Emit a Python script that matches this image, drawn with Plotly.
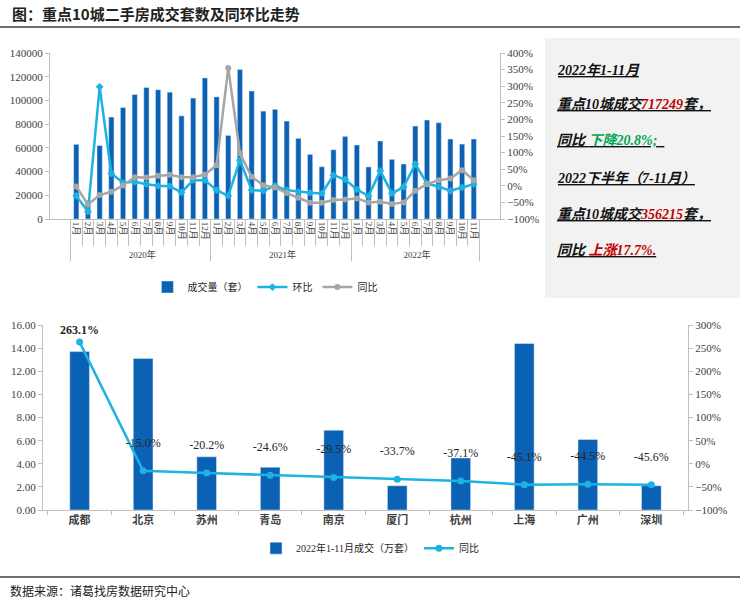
import plotly.graph_objects as go

# ---- top chart: monthly second-hand deals in 10 key cities ----
years = ["2020年"] * 12 + ["2021年"] * 12 + ["2022年"] * 11
months = [f"{m}月" for m in range(1, 13)] * 2 + [f"{m}月" for m in range(1, 12)]

volume = [63000, 15500, 62000, 86000, 94000, 105000, 111000, 109000, 107000, 87000, 102000, 119000,
          103000, 70500, 126000, 108000, 91000, 92500, 82600, 68000, 54500, 44100, 58400, 69700,
          62400, 43900, 65800, 50300, 46400, 78400, 83500, 81200, 67500, 63200, 67500]
mom = [-30, -78, 298, 37, 9, 12, 5, 0, -1, -20, 17, 17,
       -13, -30, 77, -13, -15, 0, -13, -18, -21, -23, 32, 19,
       -11, -31, 45, -23, -3, 65, 7, -3, -15, -5, 5]
yoy = [-2, -56, -28, -18, 1, 26, 25, 30, 33, 26, 26, 34,
       62, 355, 98, 27, 2, -5, -22, -36, -51, -51, -43, -41,
       -38, -50, -48, -55, -50, -15, 5, 17, 22, 47, 17]

# ---- bottom chart: 2022 Jan-Nov by city ----
cities = ["成都", "北京", "苏州", "青岛", "南京", "厦门", "杭州", "上海", "广州", "深圳"]
city_deals = [13.7, 13.1, 4.6, 3.7, 6.9, 2.1, 4.5, 14.4, 6.1, 2.1]
city_yoy = [263.1, -15.0, -20.2, -24.6, -29.5, -33.7, -37.1, -45.1, -44.5, -45.6]

FONT = "Liberation Serif, Noto Sans CJK SC"
CJK = "Noto Sans CJK SC"
BAR = "#0b62b4"
CYAN = "#1cb2e3"
GRAY = "#a6a6a6"
AXIS = "#bfbfbf"

fig = go.Figure()

# top chart traces
fig.add_trace(go.Bar(
    x=[years, months], y=volume, name="成交量（套）",
    marker_color=BAR, width=0.45, xaxis="x", yaxis="y", legend="legend",
))
fig.add_trace(go.Scatter(
    x=[years, months], y=mom, name="环比", mode="lines+markers",
    line=dict(color=CYAN, width=2.5), marker=dict(symbol="diamond", size=6, color=CYAN),
    xaxis="x", yaxis="y2", legend="legend",
))
fig.add_trace(go.Scatter(
    x=[years, months], y=yoy, name="同比", mode="lines+markers",
    line=dict(color=GRAY, width=2.5), marker=dict(symbol="circle", size=6, color=GRAY),
    xaxis="x", yaxis="y2", legend="legend",
))

# bottom chart traces
fig.add_trace(go.Bar(
    x=cities, y=city_deals, name="2022年1-11月成交（万套）",
    marker_color=BAR, width=0.31, xaxis="x2", yaxis="y3", legend="legend2",
))
fig.add_trace(go.Scatter(
    x=cities, y=city_yoy, name="同比", mode="lines+markers+text",
    text=[f"<b>{v:.1f}%</b>" if i == 0 else f"{v:.1f}%<br> " for i, v in enumerate(city_yoy)],
    textposition="top center", textfont=dict(size=12, color="#262626", family=FONT),
    line=dict(color=CYAN, width=2.5), marker=dict(symbol="circle", size=7, color=CYAN),
    xaxis="x2", yaxis="y4", legend="legend2", cliponaxis=False,
))

axis_common = dict(showgrid=False, zeroline=False, showline=True, linecolor=AXIS, linewidth=1,
                   automargin=False, ticks="outside", ticklen=4, tickcolor=AXIS,
                   tickfont=dict(size=11, color="#404040"))

fig.update_layout(
    width=740, height=603,
    margin=dict(l=0, r=0, t=0, b=0, autoexpand=False),
    paper_bgcolor="white", plot_bgcolor="rgba(0,0,0,0)",
    font=dict(family=FONT, size=11, color="#262626"),
    xaxis=dict(domain=[0.0676, 0.6757], anchor="y", type="multicategory", tickangle=90,
               automargin=False, showgrid=False, showline=True, linecolor=AXIS, ticks="outside",
               tickson="boundaries", ticklen=26, tickcolor=AXIS, showdividers=True,
               dividercolor=AXIS, tickfont=dict(size=9, color="#404040")),
    yaxis=dict(domain=[0.6368, 0.9121], anchor="x", range=[0, 140000], dtick=20000,
               tickformat="d", **axis_common),
    yaxis2=dict(overlaying="y", side="right", anchor="x", range=[-100, 400], dtick=50,
                ticksuffix="%", **axis_common),
    xaxis2=dict(domain=[0.0581, 0.9297], anchor="y3", type="category", tickson="boundaries",
                automargin=False, showgrid=False, showline=True, linecolor=AXIS, ticks="outside",
                ticklen=4, tickcolor=AXIS,
                tickfont=dict(size=11, color="#404040", family=CJK, weight="bold")),
    yaxis3=dict(domain=[0.1542, 0.461], anchor="x2", range=[0, 16], dtick=2, tickformat=".2f",
                **axis_common),
    yaxis4=dict(overlaying="y3", side="right", anchor="x2", range=[-100, 300], dtick=50,
                ticksuffix="%", **axis_common),
    legend=dict(orientation="h", x=0.358, y=0.524, xanchor="center", yanchor="middle",
                font=dict(size=10, family=FONT), bgcolor="rgba(0,0,0,0)", traceorder="normal"),
    legend2=dict(orientation="h", x=0.5, y=0.091, xanchor="center", yanchor="middle",
                 font=dict(size=10, family=FONT), bgcolor="rgba(0,0,0,0)", traceorder="normal"),
    showlegend=True,
)

# text box on the right
fig.add_shape(type="rect", xref="paper", yref="paper", x0=545 / 740, x1=1.0,
              y0=1 - 298 / 603, y1=1 - 38 / 603, fillcolor="#f2f2f2", line_width=0, layer="below")

RED = "#c00000"
GREEN = "#00a651"
box_lines = [
    "2022年1-11月",
    f"重点10城成交<span style='color:{RED}'>717249</span>套，",
    f"同比 <span style='color:{GREEN}'>下降20.8%;</span>  ",
    "2022下半年（7-11月）",
    f"重点10城成交<span style='color:{RED}'>356215</span>套，",
    f"同比 <span style='color:{RED}'>上涨17.7%.</span>",
]
box_y = [70, 104, 141, 178, 214, 250]
for txt, yy in zip(box_lines, box_y):
    fig.add_annotation(text=f"<b><i><u>{txt}</u></i></b>", xref="paper", yref="paper",
                       x=555 / 740, y=1 - yy / 603, xanchor="left", yanchor="middle",
                       showarrow=False, font=dict(size=14, color="#111111", family=FONT))

# title, separators and source
fig.add_annotation(text="<b>图：重点10城二手房成交套数及同环比走势</b>", xref="paper", yref="paper",
                   x=10 / 740, y=1 - 13 / 603, xanchor="left", yanchor="middle", showarrow=False,
                   font=dict(size=15, color="#222222", family=CJK))
fig.add_shape(type="line", xref="paper", yref="paper", x0=0, x1=1, y0=1 - 27 / 603, y1=1 - 27 / 603,
              line=dict(color="#404040", width=1.5))
fig.add_shape(type="line", xref="paper", yref="paper", x0=0, x1=1, y0=1 - 577 / 603, y1=1 - 577 / 603,
              line=dict(color="#404040", width=1.5))
fig.add_annotation(text="数据来源：诸葛找房数据研究中心", xref="paper", yref="paper",
                   x=8 / 740, y=1 - 590 / 603, xanchor="left", yanchor="middle", showarrow=False,
                   font=dict(size=12, color="#222222", family=CJK))

# page body has a default 8px margin; drop it so the figure fills the window
fig.write_html("out.html", config={"displayModeBar": False},
               post_script="document.body.style.margin='0';document.body.style.overflow='hidden';")
